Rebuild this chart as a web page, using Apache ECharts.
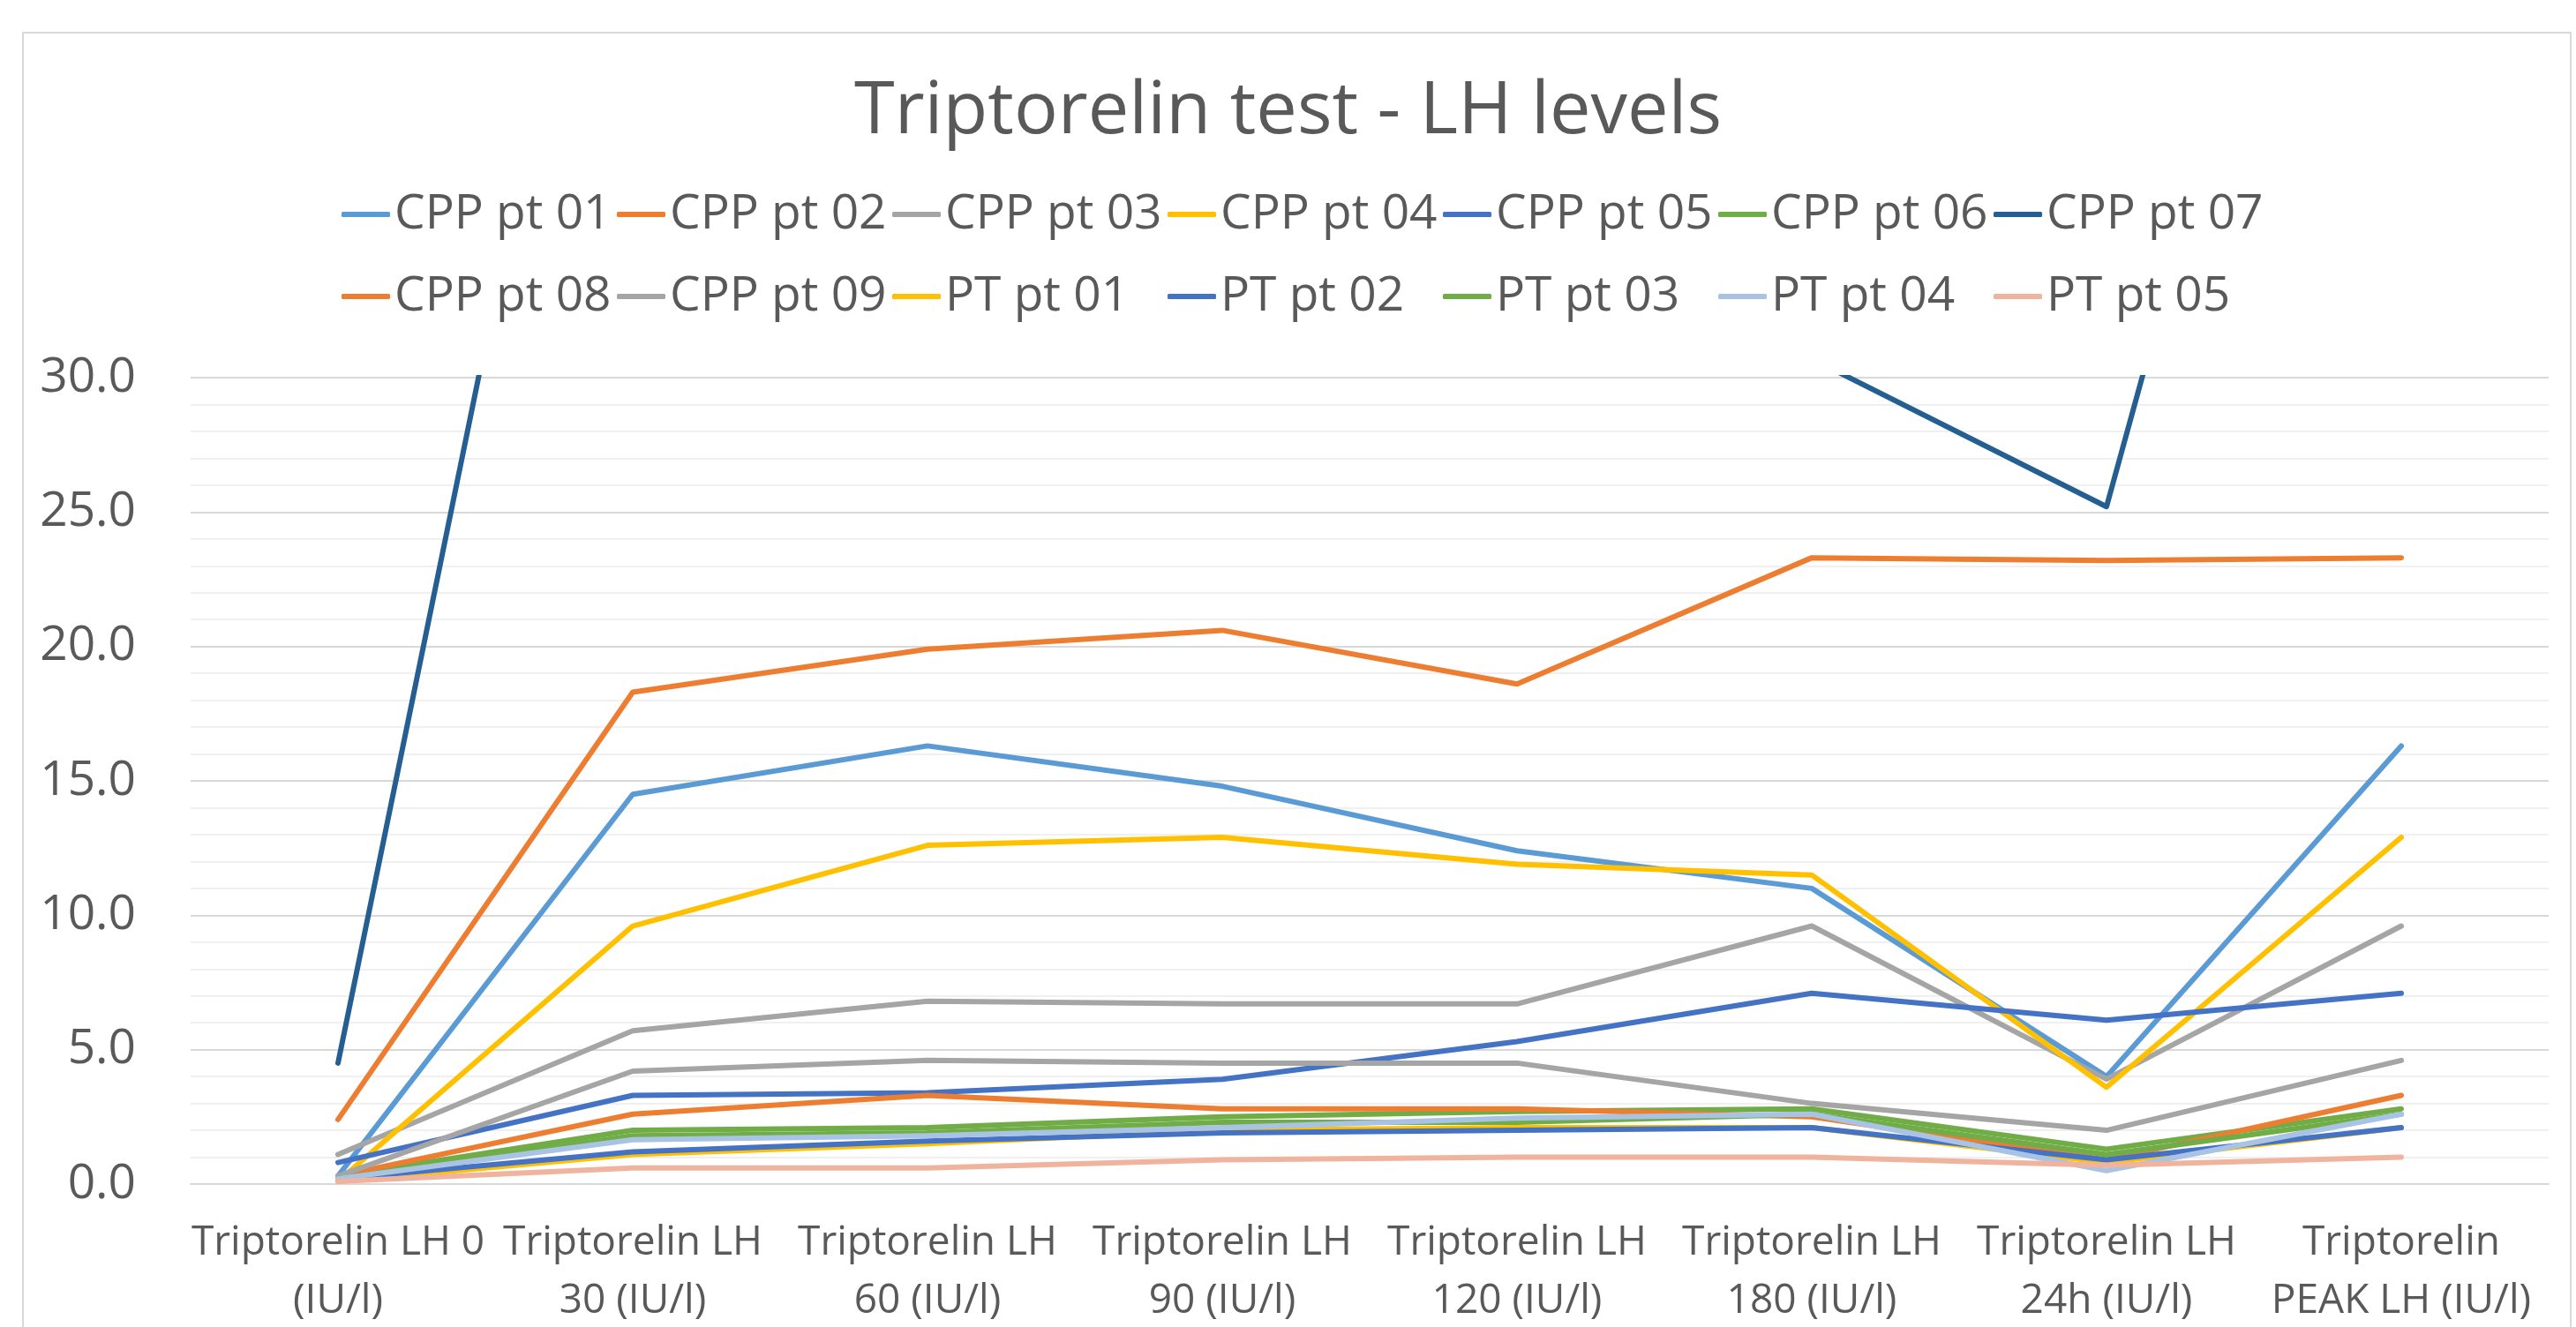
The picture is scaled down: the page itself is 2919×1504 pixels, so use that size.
<!DOCTYPE html>
<html>
<head>
<meta charset="utf-8">
<script src="https://cdn.jsdelivr.net/npm/echarts@6/dist/echarts.min.js"></script>
<style>
html, body { margin: 0; padding: 0; background: #ffffff; }
#chart { width: 2919px; height: 1504px; }
</style>
</head>
<body>
<div id="chart"></div>
<script>
// ---- data ----
const categories = [
  'Triptorelin LH 0\n(IU/l)',
  'Triptorelin LH\n30 (IU/l)',
  'Triptorelin LH\n60 (IU/l)',
  'Triptorelin LH\n90 (IU/l)',
  'Triptorelin LH\n120 (IU/l)',
  'Triptorelin LH\n180 (IU/l)',
  'Triptorelin LH\n24h (IU/l)',
  'Triptorelin\nPEAK LH (IU/l)'
];
const seriesNames = ['CPP pt 01','CPP pt 02','CPP pt 03','CPP pt 04','CPP pt 05','CPP pt 06','CPP pt 07',
                     'CPP pt 08','CPP pt 09','PT pt 01','PT pt 02','PT pt 03','PT pt 04','PT pt 05'];
const cpp01 = [0.3, 14.5, 16.3, 14.8, 12.4, 11.0, 4.0, 16.3];
const cpp02 = [2.4, 18.3, 19.9, 20.6, 18.6, 23.3, 23.2, 23.3];
const cpp03 = [1.1, 5.7, 6.8, 6.7, 6.7, 9.6, 3.9, 9.6];
const cpp04 = [0.1, 9.6, 12.6, 12.9, 11.9, 11.5, 3.6, 12.9];
const cpp05 = [0.8, 3.3, 3.4, 3.9, 5.3, 7.1, 6.1, 7.1];
const cpp06 = [0.3, 2.0, 2.1, 2.5, 2.7, 2.8, 1.3, 2.8];
const cpp07 = [4.5, 58.0, 65.0, 52.0, 41.0, 30.7, 25.2, 65.0];
const cpp08 = [0.3, 2.6, 3.3, 2.8, 2.8, 2.5, 0.9, 3.3];
const cpp09 = [0.3, 4.2, 4.6, 4.5, 4.5, 3.0, 2.0, 4.6];
const pt01 = [0.1, 1.1, 1.5, 2.0, 2.1, 2.1, 0.8, 2.1];
const pt02 = [0.2, 1.2, 1.6, 1.9, 2.0, 2.1, 0.9, 2.1];
const pt03 = [0.2, 1.8, 1.9, 2.3, 2.3, 2.6, 1.1, 2.6];
const pt04 = [0.2, 1.65, 1.8, 2.1, 2.45, 2.6, 0.5, 2.6];
const pt05 = [0.1, 0.6, 0.6, 0.9, 1.0, 1.0, 0.7, 1.0];
const seriesValues = [cpp01, cpp02, cpp03, cpp04, cpp05, cpp06, cpp07, cpp08, cpp09, pt01, pt02, pt03, pt04, pt05];
const yTicks = { min: 0, max: 30, interval: 5 };

// ---- styles ----
const colors = ['#5B9BD5','#ED7D31','#A5A5A5','#FFC000','#4472C4','#70AD47','#255E91',
                '#ED7D31','#A5A5A5','#FFC000','#4472C4','#70AD47','#A9C3E5','#F0B49E'];
const FONT = 'Open Sans';
const TEXT = '#595959';

const chart = echarts.init(document.getElementById('chart'));

function legendCfg(names, top) {
  return {
    data: names,
    left: 382,
    top: top,
    orient: 'horizontal',
    itemGap: 0,
    itemWidth: 55,
    itemHeight: 6,
    icon: 'roundRect',
    selectedMode: false,
    width: 2400,
    textStyle: {
      fontFamily: FONT, fontSize: 55, color: TEXT,
      width: 252, lineHeight: 70, padding: [0, 0, 0, 0]
    }
  };
}

const option = {
  animation: false,
  backgroundColor: '#ffffff',
  color: colors,
  title: {
    text: 'Triptorelin test - LH levels',
    left: 'center',
    top: 72,
    textStyle: { fontFamily: FONT, fontSize: 83, fontWeight: 'normal', color: TEXT, lineHeight: 100 }
  },
  legend: [
    legendCfg(seriesNames.slice(0, 7), 203),
    legendCfg(seriesNames.slice(7), 296)
  ],
  grid: { left: 216, right: 31, top: 428, bottom: 162, containLabel: false, outerBoundsMode: 'none' },
  xAxis: {
    type: 'category',
    data: categories,
    boundaryGap: true,
    axisLine: { show: true, lineStyle: { color: '#D9D9D9', width: 2 } },
    axisTick: { show: false },
    axisLabel: {
      interval: 0, margin: 34, fontFamily: FONT, fontSize: 46, color: TEXT,
      lineHeight: 66, align: 'center', hideOverlap: false
    },
    splitLine: { show: false }
  },
  yAxis: {
    type: 'value',
    min: yTicks.min, max: yTicks.max, interval: yTicks.interval,
    axisLine: { show: false },
    axisTick: { show: false },
    axisLabel: {
      margin: 62, fontFamily: FONT, fontSize: 55, color: TEXT,
      formatter: v => v.toFixed(1)
    },
    splitLine: { show: true, lineStyle: { color: '#D9D9D9', width: 2 } },
    minorTick: { show: false, splitNumber: 5 },
    minorSplitLine: { show: true, lineStyle: { color: '#F0F0F0', width: 2 } }
  },
  graphic: [{
    type: 'rect',
    shape: { x: 26, y: 37, width: 2887, height: 1520 },
    style: { fill: 'none', stroke: '#D9D9D9', lineWidth: 2 },
    silent: true, z: -1
  }],
  series: seriesNames.map((name, i) => ({
    name: name,
    type: 'line',
    data: seriesValues[i],
    symbol: 'none',
    showSymbol: false,
    clip: true,
    lineStyle: { width: 6, color: colors[i], cap: 'round', join: 'round' },
    itemStyle: { color: colors[i] },
    emphasis: { disabled: true }
  }))
};
chart.setOption(option);
</script>
</body>
</html>
